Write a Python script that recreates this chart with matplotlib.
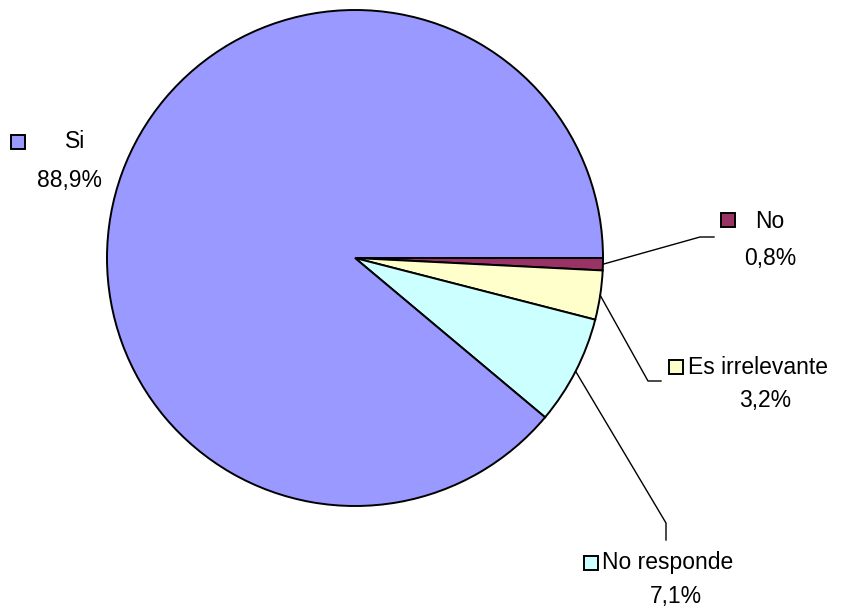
import numpy as np
import matplotlib
matplotlib.use("Agg")
import matplotlib.pyplot as plt
from matplotlib.patches import Rectangle

categories = ["No", "Es irrelevante", "No responde", "Si"]
values = [0.8, 3.2, 7.1, 88.9]
pct_labels = ["0,8%", "3,2%", "7,1%", "88,9%"]
colors = ["#993366", "#FFFFCC", "#CCFFFF", "#9999FF"]

W, H = 848, 610
fig = plt.figure(figsize=(W / 100, H / 100), dpi=100)
ax = fig.add_axes([0, 0, 1, 1])

cx, cy, r = 355, H - 258, 248
wedges, _ = ax.pie(values, colors=colors, startangle=0, counterclock=False,
                   center=(cx, cy), radius=r, frame=True,
                   wedgeprops=dict(edgecolor="black", linewidth=1.4))
ax.set_xlim(0, W)
ax.set_ylim(0, H)
ax.set_aspect("equal")
ax.axis("off")

font = dict(family=["Liberation Sans", "DejaVu Sans"], fontsize=16.5, color="black")

# label layout (pixel coords, y from top): elbow points, key square, name pos, pct pos
layout = {
    "No": dict(elbow=[(700, 237), (714, 237)], sq=(728, 220), name=(755, 221, "left"), pct=(770, 258)),
    "Es irrelevante": dict(elbow=[(648, 381), (661, 381)], sq=(676, 367), name=(688, 367, "left"), pct=(765, 401)),
    "No responde": dict(elbow=[(666, 523), (666, 540)], sq=(591, 563), name=(602, 563, "left"), pct=(676, 597)),
    "Si": dict(elbow=None, sq=(18, 142), name=(75, 142, "center"), pct=(70, 180)),
}

for w, cat, pct, col in zip(wedges, categories, pct_labels, colors):
    L = layout[cat]
    if L["elbow"] is not None:
        ang = np.deg2rad((w.theta1 + w.theta2) / 2)
        x0 = cx + r * np.cos(ang)
        y0 = cy + r * np.sin(ang)
        xs = [x0] + [p[0] for p in L["elbow"]]
        ys = [y0] + [H - p[1] for p in L["elbow"]]
        ax.plot(xs, ys, color="black", lw=1.0)
    s = 14
    sx, sy = L["sq"]
    ax.add_patch(Rectangle((sx - s / 2, H - sy - s / 2), s, s, facecolor=col,
                           edgecolor="black", lw=1.4))
    nx, ny, ha = L["name"]
    ax.text(nx, H - ny, cat, ha=ha, va="center", **font)
    px, py = L["pct"]
    ax.text(px, H - py, pct, ha="center", va="center", **font)

fig.savefig("out.png", dpi=100)
